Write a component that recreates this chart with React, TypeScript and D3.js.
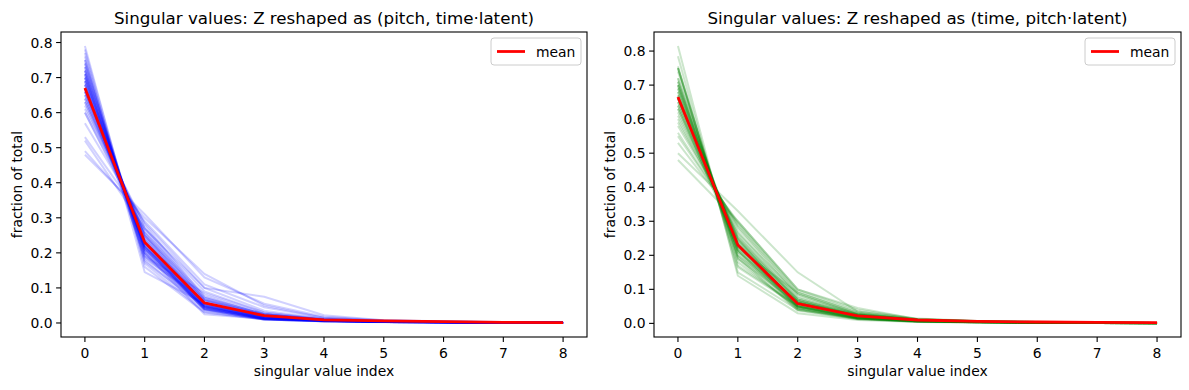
import React from "react";
import * as d3 from "d3";

// singular value index 0..8
const svIndex = [0, 1, 2, 3, 4, 5, 6, 7, 8];
const xTicks = [0, 1, 2, 3, 4, 5, 6, 7, 8];
const yTicks = [0.0, 0.1, 0.2, 0.3, 0.4, 0.5, 0.6, 0.7, 0.8];

// per-sample spectra, Z reshaped as (pitch, time·latent)
const pitchRuns: number[][] = [
  [0.79, 0.160, 0.030, 0.010, 0.005, 0.003, 0.001, 0.0008, 0.0005],
  [0.78, 0.170, 0.032, 0.010, 0.004, 0.002, 0.001, 0.0008, 0.0005],
  [0.77, 0.145, 0.055, 0.018, 0.007, 0.003, 0.001, 0.0008, 0.0005],
  [0.76, 0.180, 0.038, 0.012, 0.005, 0.003, 0.001, 0.0008, 0.0005],
  [0.75, 0.175, 0.048, 0.015, 0.006, 0.003, 0.002, 0.001, 0.0005],
  [0.75, 0.200, 0.025, 0.012, 0.005, 0.003, 0.002, 0.001, 0.0005],
  [0.74, 0.190, 0.044, 0.014, 0.006, 0.003, 0.002, 0.001, 0.0005],
  [0.74, 0.200, 0.040, 0.010, 0.005, 0.003, 0.002, 0.001, 0.0005],
  [0.73, 0.195, 0.048, 0.016, 0.006, 0.003, 0.002, 0.001, 0.0005],
  [0.73, 0.210, 0.038, 0.011, 0.005, 0.003, 0.002, 0.001, 0.0005],
  [0.72, 0.200, 0.050, 0.017, 0.007, 0.003, 0.002, 0.001, 0.0005],
  [0.72, 0.210, 0.044, 0.014, 0.006, 0.003, 0.002, 0.001, 0.0005],
  [0.72, 0.215, 0.040, 0.010, 0.005, 0.003, 0.002, 0.001, 0.0005],
  [0.71, 0.205, 0.054, 0.019, 0.007, 0.003, 0.002, 0.001, 0.0005],
  [0.71, 0.185, 0.065, 0.025, 0.010, 0.004, 0.003, 0.002, 0.0008],
  [0.71, 0.220, 0.042, 0.012, 0.006, 0.003, 0.002, 0.001, 0.0005],
  [0.70, 0.210, 0.058, 0.018, 0.007, 0.004, 0.002, 0.001, 0.0005],
  [0.70, 0.225, 0.045, 0.012, 0.006, 0.003, 0.002, 0.001, 0.0005],
  [0.70, 0.220, 0.036, 0.010, 0.005, 0.003, 0.002, 0.001, 0.0005],
  [0.69, 0.220, 0.058, 0.019, 0.008, 0.004, 0.002, 0.001, 0.0005],
  [0.69, 0.230, 0.050, 0.016, 0.007, 0.004, 0.002, 0.001, 0.0005],
  [0.69, 0.215, 0.045, 0.011, 0.006, 0.003, 0.002, 0.001, 0.0005],
  [0.68, 0.215, 0.068, 0.022, 0.008, 0.004, 0.002, 0.001, 0.0005],
  [0.68, 0.190, 0.085, 0.030, 0.010, 0.004, 0.002, 0.001, 0.0005],
  [0.68, 0.230, 0.042, 0.012, 0.006, 0.003, 0.002, 0.001, 0.0005],
  [0.67, 0.240, 0.055, 0.020, 0.008, 0.004, 0.002, 0.001, 0.0005],
  [0.67, 0.220, 0.048, 0.012, 0.006, 0.003, 0.002, 0.001, 0.0005],
  [0.66, 0.250, 0.058, 0.018, 0.007, 0.004, 0.002, 0.001, 0.0005],
  [0.66, 0.230, 0.072, 0.025, 0.009, 0.004, 0.003, 0.001, 0.0005],
  [0.66, 0.240, 0.046, 0.013, 0.006, 0.004, 0.002, 0.001, 0.0005],
  [0.65, 0.255, 0.062, 0.020, 0.008, 0.004, 0.003, 0.001, 0.0005],
  [0.65, 0.235, 0.050, 0.013, 0.007, 0.004, 0.002, 0.001, 0.0005],
  [0.64, 0.250, 0.075, 0.024, 0.009, 0.004, 0.003, 0.002, 0.0008],
  [0.64, 0.245, 0.052, 0.014, 0.007, 0.004, 0.002, 0.001, 0.0005],
  [0.63, 0.270, 0.066, 0.021, 0.008, 0.004, 0.003, 0.002, 0.0008],
  [0.63, 0.250, 0.055, 0.015, 0.007, 0.004, 0.003, 0.001, 0.0005],
  [0.62, 0.260, 0.080, 0.026, 0.010, 0.005, 0.003, 0.002, 0.0008],
  [0.61, 0.280, 0.072, 0.025, 0.010, 0.005, 0.003, 0.002, 0.0008],
  [0.60, 0.270, 0.090, 0.030, 0.012, 0.005, 0.003, 0.002, 0.001],
  [0.60, 0.260, 0.065, 0.020, 0.009, 0.005, 0.003, 0.002, 0.0008],
  [0.57, 0.285, 0.100, 0.035, 0.012, 0.006, 0.004, 0.002, 0.001],
  [0.53, 0.290, 0.110, 0.045, 0.015, 0.006, 0.004, 0.002, 0.001],
  [0.52, 0.270, 0.100, 0.075, 0.022, 0.008, 0.004, 0.002, 0.001],
  [0.49, 0.300, 0.140, 0.050, 0.015, 0.007, 0.004, 0.003, 0.001],
  [0.48, 0.310, 0.130, 0.055, 0.018, 0.008, 0.005, 0.003, 0.001],
];
const pitchMean = [0.67, 0.23, 0.057, 0.021, 0.009, 0.006, 0.004, 0.002, 0.001];

// per-sample spectra, Z reshaped as (time, pitch·latent)
const timeRuns: number[][] = [
  [0.815, 0.140, 0.030, 0.010, 0.004, 0.002, 0.001, 0.0008, 0.0005],
  [0.785, 0.150, 0.040, 0.014, 0.005, 0.003, 0.002, 0.001, 0.0005],
  [0.755, 0.165, 0.050, 0.017, 0.006, 0.003, 0.002, 0.001, 0.0005],
  [0.75, 0.170, 0.052, 0.016, 0.006, 0.003, 0.002, 0.001, 0.0005],
  [0.75, 0.180, 0.045, 0.015, 0.005, 0.003, 0.002, 0.001, 0.0005],
  [0.75, 0.190, 0.038, 0.012, 0.005, 0.003, 0.002, 0.001, 0.0005],
  [0.74, 0.195, 0.040, 0.013, 0.005, 0.003, 0.002, 0.001, 0.0005],
  [0.72, 0.200, 0.050, 0.018, 0.007, 0.003, 0.002, 0.001, 0.0005],
  [0.72, 0.210, 0.042, 0.014, 0.006, 0.003, 0.002, 0.001, 0.0005],
  [0.71, 0.190, 0.060, 0.022, 0.009, 0.004, 0.003, 0.002, 0.0008],
  [0.71, 0.215, 0.045, 0.013, 0.006, 0.003, 0.002, 0.001, 0.0005],
  [0.70, 0.200, 0.065, 0.020, 0.008, 0.004, 0.002, 0.001, 0.0005],
  [0.70, 0.230, 0.045, 0.015, 0.006, 0.003, 0.002, 0.001, 0.0005],
  [0.70, 0.215, 0.050, 0.014, 0.006, 0.003, 0.002, 0.001, 0.0005],
  [0.69, 0.210, 0.062, 0.022, 0.008, 0.004, 0.002, 0.001, 0.0005],
  [0.69, 0.225, 0.048, 0.015, 0.006, 0.004, 0.002, 0.001, 0.0005],
  [0.68, 0.215, 0.065, 0.022, 0.009, 0.004, 0.003, 0.001, 0.0005],
  [0.68, 0.230, 0.050, 0.016, 0.007, 0.004, 0.002, 0.001, 0.0005],
  [0.67, 0.225, 0.058, 0.024, 0.009, 0.004, 0.003, 0.002, 0.0005],
  [0.67, 0.235, 0.052, 0.017, 0.007, 0.004, 0.002, 0.001, 0.0005],
  [0.66, 0.240, 0.055, 0.022, 0.009, 0.005, 0.003, 0.002, 0.0008],
  [0.66, 0.250, 0.050, 0.022, 0.010, 0.005, 0.003, 0.002, 0.0008],
  [0.66, 0.230, 0.060, 0.018, 0.008, 0.004, 0.003, 0.001, 0.0005],
  [0.65, 0.235, 0.070, 0.025, 0.010, 0.005, 0.003, 0.002, 0.0008],
  [0.65, 0.245, 0.055, 0.018, 0.008, 0.004, 0.003, 0.002, 0.0008],
  [0.64, 0.250, 0.065, 0.025, 0.010, 0.005, 0.003, 0.002, 0.0008],
  [0.64, 0.220, 0.090, 0.030, 0.010, 0.005, 0.003, 0.002, 0.0008],
  [0.63, 0.260, 0.062, 0.024, 0.010, 0.005, 0.003, 0.002, 0.0008],
  [0.63, 0.245, 0.070, 0.022, 0.009, 0.005, 0.003, 0.002, 0.0008],
  [0.62, 0.255, 0.075, 0.026, 0.011, 0.005, 0.004, 0.002, 0.001],
  [0.61, 0.270, 0.070, 0.026, 0.011, 0.006, 0.004, 0.002, 0.001],
  [0.60, 0.265, 0.085, 0.027, 0.011, 0.006, 0.004, 0.002, 0.001],
  [0.59, 0.280, 0.078, 0.028, 0.011, 0.006, 0.004, 0.002, 0.001],
  [0.58, 0.285, 0.085, 0.028, 0.011, 0.006, 0.004, 0.002, 0.001],
  [0.56, 0.290, 0.090, 0.032, 0.012, 0.007, 0.004, 0.003, 0.001],
  [0.55, 0.295, 0.095, 0.035, 0.012, 0.007, 0.004, 0.003, 0.001],
  [0.53, 0.300, 0.100, 0.040, 0.014, 0.007, 0.005, 0.003, 0.001],
  [0.50, 0.330, 0.150, 0.035, 0.013, 0.006, 0.004, 0.003, 0.001],
  [0.48, 0.300, 0.100, 0.045, 0.012, 0.006, 0.004, 0.002, 0.001],
];
const timeMean = [0.665, 0.23, 0.058, 0.022, 0.01, 0.006, 0.004, 0.003, 0.002];

const FONT = "DejaVu Sans, sans-serif";

type PanelProps = {
  left: number;
  right: number;
  title: string;
  runs: number[][];
  mean: number[];
  color: string;
  alpha: number;
  yMax: number;
};

function Panel({ left, right, title, runs, mean, color, alpha, yMax }: PanelProps) {
  const top = 32;
  const bottom = 337;

  const x = d3.scaleLinear().domain([-0.4, 8.4]).range([left, right]);
  const y = d3.scaleLinear().domain([-0.04, yMax]).range([bottom, top]);

  const line = d3
    .line<number>()
    .x((d, i) => x(svIndex[i]))
    .y((d) => y(d));

  const cx = (left + right) / 2;

  return (
    <g>
      <defs>
        <clipPath id={"clip" + left}>
          <rect x={left} y={top} width={right - left} height={bottom - top} />
        </clipPath>
      </defs>
      <g clipPath={`url(#clip${left})`}>
        {runs.map((r, i) => (
          <path key={i} d={line(r) || ""} fill="none" stroke={color} strokeOpacity={alpha} strokeWidth={2} />
        ))}
        <path d={line(mean) || ""} fill="none" stroke="#ff0000" strokeWidth={2.8} strokeLinejoin="round" />
      </g>

      <rect x={left} y={top} width={right - left} height={bottom - top} fill="none" stroke="#000" strokeWidth={1.1} />

      {xTicks.map((t) => (
        <g key={t}>
          <line x1={x(t)} x2={x(t)} y1={bottom} y2={bottom + 4.9} stroke="#000" strokeWidth={1.1} />
          <text x={x(t)} y={bottom + 20.5} textAnchor="middle" fontSize={13.9} fontFamily={FONT}>
            {t}
          </text>
        </g>
      ))}
      {yTicks.filter((t) => t <= yMax).map((t) => (
        <g key={t}>
          <line x1={left - 4.9} x2={left} y1={y(t)} y2={y(t)} stroke="#000" strokeWidth={1.1} />
          <text x={left - 8.5} y={y(t) + 5} textAnchor="end" fontSize={13.9} fontFamily={FONT}>
            {t.toFixed(1)}
          </text>
        </g>
      ))}

      <text x={cx} y={376} textAnchor="middle" fontSize={13.9} fontFamily={FONT}>
        singular value index
      </text>
      <text
        transform={`translate(${left - 39},${(top + bottom) / 2}) rotate(-90)`}
        textAnchor="middle"
        fontSize={13.9}
        fontFamily={FONT}
      >
        fraction of total
      </text>
      <text x={cx} y={24} textAnchor="middle" fontSize={16.7} fontFamily={FONT}>
        {title}
      </text>

      {/* legend */}
      <g transform={`translate(${right - 96},38)`}>
        <rect x={0} y={0} width={90} height={27} rx={3} fill="#fff" fillOpacity={0.8} stroke="#cccccc" />
        <line x1={6} x2={34} y1={13.5} y2={13.5} stroke="#ff0000" strokeWidth={2.8} />
        <text x={45} y={18.5} fontSize={13.9} fontFamily={FONT}>
          mean
        </text>
      </g>
    </g>
  );
}

export default function App() {
  return (
    <svg width={1189} height={390} style={{ display: "block", position: "absolute", left: 0, top: 0 }}>
      <rect width={1189} height={390} fill="#fff" />
      <Panel
        left={61}
        right={587}
        title="Singular values: Z reshaped as (pitch, time·latent)"
        runs={pitchRuns}
        mean={pitchMean}
        color="#0000ff"
        alpha={0.18}
        yMax={0.83}
      />
      <Panel
        left={654}
        right={1181}
        title="Singular values: Z reshaped as (time, pitch·latent)"
        runs={timeRuns}
        mean={timeMean}
        color="#008000"
        alpha={0.2}
        yMax={0.856}
      />
    </svg>
  );
}
